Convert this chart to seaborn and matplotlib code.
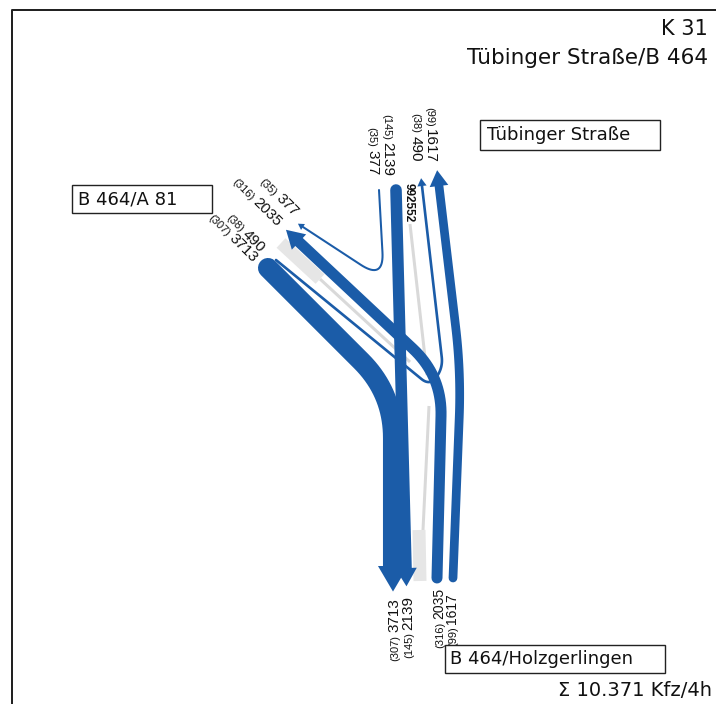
import numpy as np
import pandas as pd
import matplotlib
matplotlib.use("Agg")
import matplotlib.pyplot as plt
import seaborn as sns
from matplotlib.patches import Rectangle
from matplotlib.textpath import TextPath
from matplotlib.font_manager import FontProperties

sns.set_style("white")
plt.rcParams['font.family'] = ['DejaVu Sans']

# Flow volumes (Kfz/4h) and heavy traffic share in brackets
flow_names = ['3713', '2139', '2035', '1617', '490', '377']
flow_volumes = [3713, 2139, 2035, 1617, 490, 377]
flow_heavy = [307, 145, 316, 99, 38, 35]
total_label = "\u03a3 10.371 Kfz/4h"

# Route geometry of each stream in the node sketch (pixels, y down)
routes = {
    '3713': [(268, 268), (393, 393), (393, 566)],
    '2139': [(396, 190), (406, 568)],
    '2035': [(437, 578), (442, 376), (299, 242)],
    '1617': [(453, 578), (461, 372), (439, 186)],
    '490': [(276, 260), (430, 386), (443, 368), (422, 186)],
    '377': [(379, 190), (384, 280), (303, 227)],
}
corner = {'3713': 45, '2139': 0, '2035': 40, '1617': 45, '490': 14, '377': 28}

# label anchors (x, y) per arm
labels_top = {'377': (368, 175), '2139': (383, 176), '490': (412, 162), '1617': (426, 163)}
labels_bottom = {'3713': (398, 598), '2139': (412, 596), '2035': (443, 588), '1617': (456, 593)}
labels_left = {'3713': (252, 263), '490': (260, 253), '2035': (276, 227), '377': (293, 217)}

BLUE = '#1b5ca8'
PX = 0.72  # points per pixel at dpi 100


def rounded(points, d):
    pts = [np.array(p, float) for p in points]
    if d == 0 or len(pts) < 3:
        return np.array(pts)
    out = [pts[0]]
    for i in range(1, len(pts) - 1):
        a = pts[i] - pts[i - 1]
        b = pts[i + 1] - pts[i]
        la, lb = np.linalg.norm(a), np.linalg.norm(b)
        dd = min(d, la / 2, lb / 2)
        p0 = pts[i] - a / la * dd
        p2 = pts[i] + b / lb * dd
        for t in np.linspace(0, 1, 20):
            out.append((1 - t) ** 2 * p0 + 2 * (1 - t) * t * pts[i] + t ** 2 * p2)
    out.append(pts[-1])
    return np.array(out)


def arrow_head(ax, p_from, p_to, lw_px, color):
    v = np.array(p_to, float) - np.array(p_from, float)
    v /= np.linalg.norm(v)
    n = np.array([-v[1], v[0]])
    w = lw_px + min(10, 2.5 * lw_px)
    l = w * 0.85
    base = np.array(p_to, float)
    tip = base + v * l
    poly = np.array([base + n * w / 2, tip, base - n * w / 2])
    ax.fill(poly[:, 0], poly[:, 1], color=color, lw=0, zorder=3)


def text_width_px(s, size):
    tp = TextPath((0, 0), s, size=size, prop=FontProperties(family='Liberation Sans'))
    return tp.get_extents().width / PX


def flow_label(ax, x, y, rot, num, heavy, fs=11):
    ax.text(x, y, num, rotation=rot, rotation_mode='anchor', ha='right', va='baseline',
            fontsize=fs, family='Liberation Sans', color='#111')
    ang = np.deg2rad(rot)
    d = np.array([np.cos(ang), -np.sin(ang)])
    off = text_width_px(num, fs) + 4
    px, py = np.array([x, y]) - d * off
    ax.text(px, py, f"({heavy})", rotation=rot, rotation_mode='anchor', ha='right', va='baseline',
            fontsize=8, family='Liberation Sans', color='#111')


fig = plt.figure(figsize=(7.16, 7.04), dpi=100)
ax = fig.add_axes([0, 0, 1, 1])
ax.set_xlim(0, 716)
ax.set_ylim(704, 0)
ax.axis('off')

# frame
ax.plot([12, 12, 716], [704, 10, 10], color='#222', lw=2 * PX, solid_capstyle='butt')

# light grey streams
grey_lines = [[(320, 279), (410, 362)], [(410, 224), (427, 375)], [(429, 406), (423, 530)]]
for seg in grey_lines:
    df = pd.DataFrame(seg, columns=['x', 'y'])
    sns.lineplot(data=df, x='x', y='y', sort=False, estimator=None, ax=ax,
                 color='#d9d9d9', lw=3 * PX, solid_capstyle='butt', zorder=1)
for seg in [[(281, 243), (320, 279)], [(419, 530), (420, 581)]]:
    df = pd.DataFrame(seg, columns=['x', 'y'])
    sns.lineplot(data=df, x='x', y='y', sort=False, estimator=None, ax=ax,
                 color='#e6e6e6', lw=13 * PX, solid_capstyle='butt', zorder=1)

# blue streams
for name, vol in zip(flow_names, flow_volumes):
    lw_px = vol / 185
    path = rounded(routes[name], corner[name])
    df = pd.DataFrame(path, columns=['x', 'y'])
    sns.lineplot(data=df, x='x', y='y', sort=False, estimator=None, ax=ax,
                 color=BLUE, lw=lw_px * PX, solid_capstyle='round', zorder=2)
    arrow_head(ax, path[-2], path[-1], lw_px, BLUE)

ax.text(403, 183, "992552", rotation=-90, rotation_mode='anchor', ha='left', va='bottom',
        fontsize=8.5, fontweight='bold', family='Liberation Sans', color='#111')

for name, vol, hv in zip(flow_names, flow_volumes, flow_heavy):
    if name in labels_top:
        flow_label(ax, *labels_top[name], -90, name, hv)
    if name in labels_bottom:
        fs = 10 if name in ('2035', '1617') else 11
        flow_label(ax, *labels_bottom[name], 90, name, hv, fs)
    if name in labels_left:
        flow_label(ax, *labels_left[name], -45, name, hv)

# arm name boxes
boxes = [((480, 120, 180, 30), "T\u00fcbinger Stra\u00dfe", (487, 135)),
         ((72, 185, 140, 28), "B 464/A 81", (78, 199)),
         ((445, 645, 220, 28), "B 464/Holzgerlingen", (450, 659))]
for (bx, by, bw, bh), s, (tx, ty) in boxes:
    ax.add_patch(Rectangle((bx, by), bw, bh, fc='white', ec='#222', lw=1.4 * PX, zorder=4))
    ax.text(tx, ty, s, ha='left', va='center', fontsize=13, color='#111', zorder=5)

ax.text(708, 29, "K 31", ha='right', va='center', fontsize=15, color='#111')
ax.text(708, 58, "T\u00fcbinger Stra\u00dfe/B 464", ha='right', va='center', fontsize=15.5, color='#111')
ax.text(712, 690, total_label, ha='right', va='center', fontsize=14, color='#111')

fig.savefig("out.png", dpi=100)
